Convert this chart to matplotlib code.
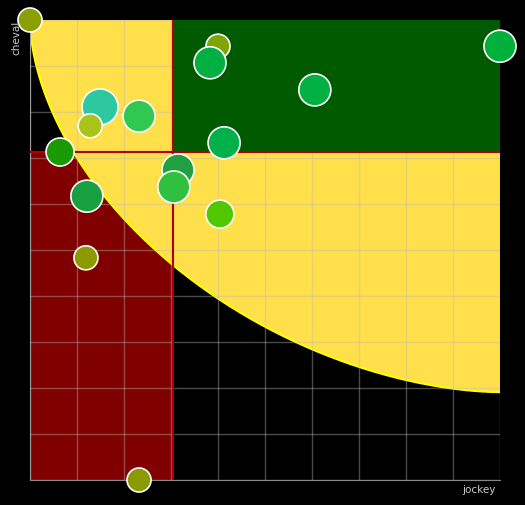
import matplotlib.pyplot as plt
import numpy as np
from matplotlib.patches import Polygon, Rectangle

# data
xs = [0, 40, 38.3, 100, 60.6, 14.9, 23.2, 12.8, 41.3, 6.4, 31.5, 30.6, 12.1, 40.4, 11.9, 23.2]
ys = [100, 94.3, 90.7, 94.3, 84.8, 81.1, 79.1, 77, 73.3, 71.3, 67.4, 63.7, 61.7, 57.8, 48.3, 0]
sizes = [12, 12, 16, 16, 16, 18, 16, 12, 16, 14, 16, 16, 16, 14, 12, 12]
colors = ['#8a9f00', '#7fa500', '#00b040', '#00b03c', '#00b040', '#2ec8a0', '#30c850', '#a8c418',
          '#00b048', '#1a9a00', '#20a040', '#30c040', '#18a040', '#50c800', '#8a9a00', '#8a9a00']
x_split = 30.4
y_split = 71.3
rad_x, rad_y, expo = 100, 80.9, 1.78

fig = plt.figure(figsize=(5.25, 5.05), dpi=100, facecolor='black')
ax = fig.add_axes([30/525, 25/505, 470/525, 460/505])
ax.set_facecolor('black')
ax.set_xlim(0, 100)
ax.set_ylim(0, 100)

ax.add_patch(Rectangle((0, 0), x_split, y_split, facecolor='#800000', edgecolor='none', zorder=1))
t = np.linspace(0, np.pi / 2, 300)
cx = 100 - rad_x * np.cos(t) ** (2 / expo)
cy = 100 - rad_y * np.sin(t) ** (2 / expo)
curve = np.column_stack([cx, cy])
ax.add_patch(Polygon(np.vstack([curve, [[100, 100]]]), facecolor='#ffdf4a', edgecolor='none', zorder=2))
ax.plot(cx, cy, color='yellow', lw=1.5, zorder=2)
ax.add_patch(Rectangle((x_split, y_split), 100 - x_split, 100 - y_split, facecolor='#005a00', edgecolor='none', zorder=3))
ax.axvline(x_split, color='#b00000', lw=1.5, zorder=4)
ax.axhline(y_split, color='#b00000', lw=1.5, zorder=4)

ax.set_xticks(np.arange(0, 101, 10))
ax.set_yticks(np.arange(0, 101, 10))
ax.grid(True, color='#bbbbbb', alpha=0.4, lw=1, zorder=5)
ax.set_axisbelow(False)
ax.tick_params(length=0, labelbottom=False, labelleft=False)
for s in ax.spines.values():
    s.set_color('#888888')
ax.spines['top'].set_visible(False)
ax.spines['right'].set_visible(False)

ax.scatter(xs, ys, s=[(2 * r) ** 2 * 0.52 for r in sizes], c=colors, edgecolors='white',
           linewidths=1.2, zorder=6, clip_on=False)

fig.text(16/525, 1 - 38/505, 'cheval', rotation=90, color='#cccccc', fontsize=7.5, ha='center', va='center')
fig.text(496/525, 1 - 490/505, 'jockey', color='#cccccc', fontsize=7.5, ha='right', va='center')

fig.savefig('out.png', dpi=100, facecolor='black')
